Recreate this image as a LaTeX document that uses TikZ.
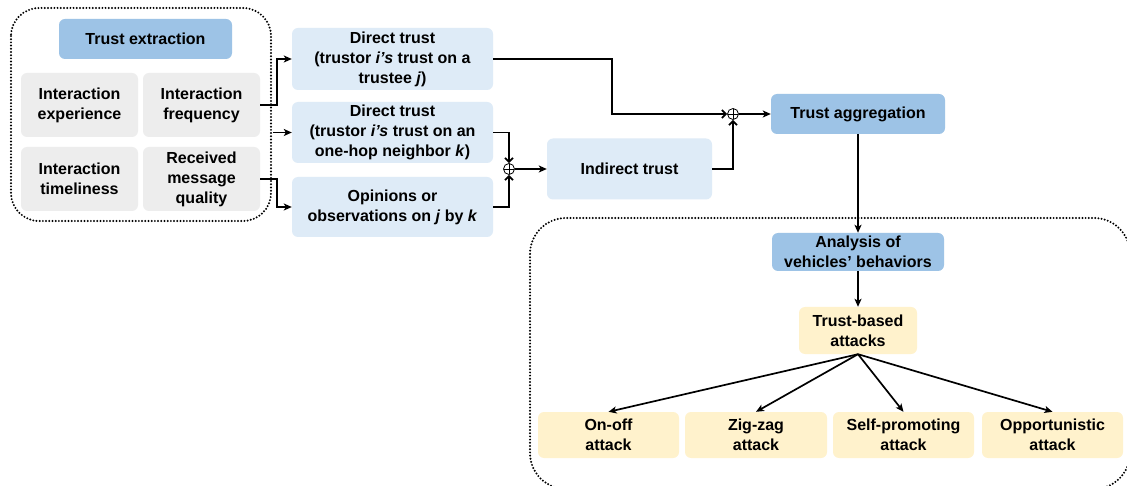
\documentclass[tikz,border=0pt]{standalone}
\usepackage{fontspec}
\setmainfont{Liberation Sans}
\usetikzlibrary{arrows.meta}
\definecolor{dkblue}{HTML}{9DC3E6}
\definecolor{ltblue}{HTML}{DEEBF7}
\definecolor{ltgray}{HTML}{EDEDED}
\definecolor{ltyellow}{HTML}{FFF2CC}
\tikzset{
  box/.style={rounded corners=6pt, inner sep=0pt, align=center, font=\fontsize{16}{20}\selectfont\bfseries},
  dkbox/.style={box, fill=dkblue},
  lbbox/.style={box, fill=ltblue},
  gbox/.style={box, fill=ltgray},
  ybox/.style={box, fill=ltyellow},
  conn/.style={line width=1.7pt, -{Stealth[length=8pt,width=7pt,inset=2pt]}},
  connp/.style={line width=1.7pt, -{Straight Barb[length=4pt,width=8pt]}},
  dotbox/.style={line width=2.2pt, line cap=round, dash pattern=on 0pt off 3.2pt},
  oplusnode/.style={circle, draw, line width=0.8pt, fill=white, minimum size=11pt, inner sep=0pt,
    path picture={\draw[line width=0.8pt] (path picture bounding box.north) -- (path picture bounding box.south)
      (path picture bounding box.west) -- (path picture bounding box.east);}},
}
\begin{document}
\begin{tikzpicture}[x=1pt,y=-1pt]
\useasboundingbox (0,0) rectangle (1127,486);
\fill[white] (0,0) rectangle (1127,486);
% dotted containers
\draw[dotbox, rounded corners=28pt] (11,8) rectangle (271,221);
\begin{scope}
\clip (0,0) rectangle (1127,486);
\draw[dotbox, rounded corners=36pt] (530,218) rectangle (1130,489);
\end{scope}
% left group
\node[dkbox, minimum width=173pt, minimum height=40pt] (te) at (145.5,39) {Trust extraction};
\node[gbox, minimum width=117pt, minimum height=64pt] (ie) at (79.5,105) {Interaction\\experience};
\node[gbox, minimum width=117pt, minimum height=64pt] (if) at (201.5,105) {Interaction\\frequency};
\node[gbox, minimum width=117pt, minimum height=64pt] (it) at (79.5,179) {Interaction\\timeliness};
\node[gbox, minimum width=117pt, minimum height=64pt] (rq) at (201.5,179) {Received\\message\\quality};
% middle
\node[lbbox, minimum width=201pt, minimum height=62pt] (dt1) at (392.5,59) {Direct trust\\(trustor \textit{i’s} trust on a\\trustee \textit{j})};
\node[lbbox, minimum width=201pt, minimum height=61pt] (dt2) at (392.5,132.5) {Direct trust\\(trustor \textit{i’s} trust on an\\one-hop neighbor \textit{k})};
\node[lbbox, minimum width=201pt, minimum height=60pt] (op) at (392.5,207) {Opinions or\\observations on \textit{j} by \textit{k}};
\node[oplusnode] (p1) at (509,169) {};
\node[lbbox, minimum width=165pt, minimum height=61pt] (ind) at (629.5,169) {Indirect trust};
\node[oplusnode] (p2) at (733,114) {};
\node[dkbox, minimum width=174pt, minimum height=40pt] (ta) at (858,114) {Trust aggregation};
% bottom
\node[dkbox, minimum width=172pt, minimum height=38pt] (an) at (858,252) {Analysis of\\vehicles’ behaviors};
\node[ybox, minimum width=118pt, minimum height=47pt] (tb) at (858,330.5) {Trust-based\\attacks};
\node[ybox, minimum width=141pt, minimum height=46pt] (on) at (608.5,435) {On-off\\attack};
\node[ybox, minimum width=142pt, minimum height=46pt] (zz) at (756,435) {Zig-zag\\attack};
\node[ybox, minimum width=141pt, minimum height=46pt] (sp) at (903.5,435) {Self-promoting\\attack};
\node[ybox, minimum width=141pt, minimum height=46pt] (oa) at (1052.5,435) {Opportunistic\\attack};
% connectors left -> middle
\coordinate (free) at (273,132.5);
\draw[conn] (if.east) -- (277,105) |- (dt1.west);
\draw[conn] (free) -- (dt2.west);
\draw[conn] (rq.east) -- (277,179) |- (op.west);
% middle
\draw[connp] (dt2.east) -| (p1.north);
\draw[connp] (op.east) -| (p1.south);
\draw[conn] (p1.east) -- (ind.west);
\draw[connp] (dt1.east) -- (612,59) |- (p2.west);
\draw[connp] (ind.east) -| (p2.south);
\draw[conn] (p2.east) -- (ta.west);
\draw[conn] (ta.south) -- (an.north);
\draw[conn] (an.south) -- (tb.north);
\draw[conn] (tb.south) -- (on.north);
\draw[conn] (tb.south) -- (zz.north);
\draw[conn] (tb.south) -- (sp.north);
\draw[conn] (tb.south) -- (oa.north);
\end{tikzpicture}
\end{document}
